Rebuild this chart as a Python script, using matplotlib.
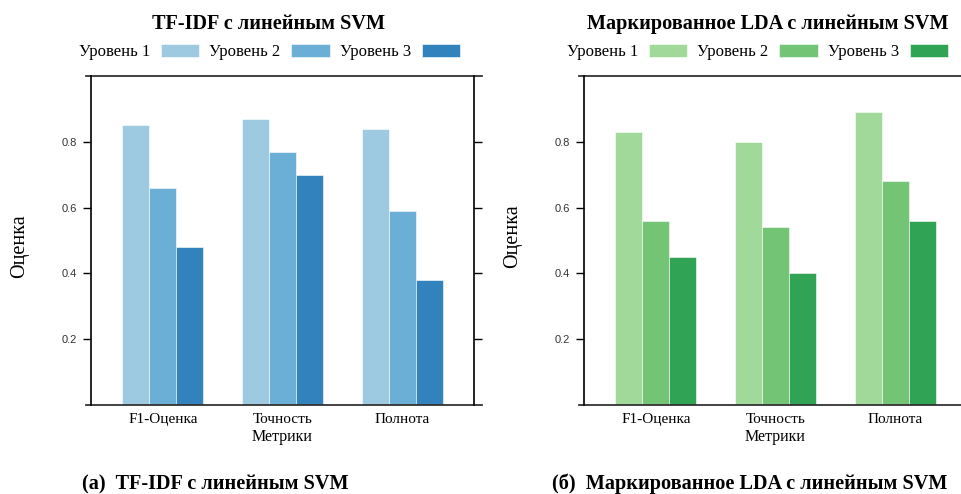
import matplotlib
matplotlib.use("Agg")
import matplotlib.pyplot as plt
import numpy as np

plt.rcParams['font.family'] = ['Liberation Serif', 'DejaVu Serif']

metrics = ['F1-Оценка', 'Точность', 'Полнота']
levels = ['Уровень 1', 'Уровень 2', 'Уровень 3']

# scores per level, ordered as in metrics
tfidf_scores = [
    [0.85, 0.87, 0.84],
    [0.66, 0.77, 0.59],
    [0.48, 0.70, 0.38],
]
lda_scores = [
    [0.83, 0.80, 0.89],
    [0.56, 0.54, 0.68],
    [0.45, 0.40, 0.56],
]

blues = ['#9ecae1', '#6baed6', '#3182bd']
greens = ['#a1d99b', '#74c476', '#31a354']

W, H = 962, 494
fig = plt.figure(figsize=(W / 100, H / 100), dpi=100)


def panel(left_px, scores, colors, title, title_x, ylab_xy, legend_xy):
    ax = fig.add_axes([left_px / W, 1 - 405 / H, 383 / W, 329 / H])
    x = np.arange(len(metrics))
    bw = 0.225
    for i, (vals, col) in enumerate(zip(scores, colors)):
        ax.bar(x + (i - 1) * bw, vals, width=bw, color=col,
               edgecolor='white', linewidth=0.4, label=levels[i])
    ax.set_xlim(-0.6, 2.6)
    ax.set_ylim(0, 1)
    ax.set_yticks([0.2, 0.4, 0.6, 0.8])
    ax.set_yticklabels(['0.2', '0.4', '0.6', '0.8'],
                       family='Liberation Sans', fontsize=8, color='#333333')
    ax.tick_params(axis='y', direction='out', length=6, width=1,
                   right=True, labelright=False, pad=4)
    ax.set_xticks(x)
    ax.set_xticklabels(metrics, fontsize=11)
    ax.tick_params(axis='x', length=0, pad=6)
    ax.set_xlabel('Метрики', fontsize=11.5, labelpad=2)

    for s in ['top', 'bottom']:
        ax.spines[s].set_visible(False)
    for s in ['left', 'right']:
        ax.spines[s].set_linewidth(1.2)
    # horizontal frame lines run a little past the side spines
    for yy in (0, 1):
        ax.plot([-0.013, 1.021], [yy, yy], transform=ax.transAxes,
                color='#333333', lw=1.3, clip_on=False)

    fig.text(ylab_xy[0] / W, 1 - ylab_xy[1] / H, 'Оценка', rotation=90,
             fontsize=14.5, ha='center', va='center')
    fig.text(title_x / W, 1 - 24 / H, title, fontsize=14.6,
             fontweight='bold', ha='center', va='center')

    fig.legend(*ax.get_legend_handles_labels(), loc='center left',
               bbox_to_anchor=(legend_xy[0] / W, 1 - legend_xy[1] / H),
               ncol=3, frameon=False, markerfirst=False, fontsize=12,
               handlelength=2.3, handleheight=0.85, handletextpad=0.65,
               columnspacing=0.6, borderpad=0, borderaxespad=0)
    return ax


ax1 = panel(91, tfidf_scores, blues, 'TF-IDF с линейным SVM', 268,
            (20, 246), (79, 52))
ax2 = panel(584, lda_scores, greens, 'Маркированное LDA с линейным SVM', 768,
            (513, 236), (567, 52))

fig.text(82 / W, 1 - 484 / H, '(а)  TF-IDF с линейным SVM', fontsize=14.6,
         fontweight='bold', ha='left', va='center')
fig.text(552 / W, 1 - 484 / H, '(б)  Маркированное LDA с линейным SVM',
         fontsize=14.6, fontweight='bold', ha='left', va='center')

fig.savefig('out.png', dpi=100)
